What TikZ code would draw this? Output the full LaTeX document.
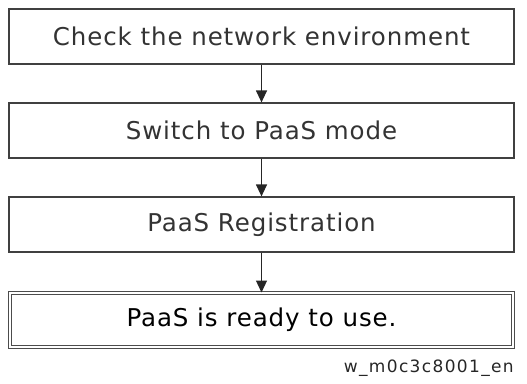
\documentclass[tikz,border=0pt]{standalone}
\usepackage{fontspec}
\setmainfont{DejaVu Sans}
\newfontfamily\boxfont[LetterSpace=3.7]{DejaVu Sans}
\newfontfamily\lblfont[LetterSpace=8]{DejaVu Sans}
\usetikzlibrary{arrows.meta}
\begin{document}
\begin{tikzpicture}[x=1pt,y=-1pt,
  box/.style={draw=black!75, line width=1.2pt, minimum width=505pt, minimum height=55pt, inner sep=0pt, text=black!80, font=\boxfont\fontsize{24.5}{28}\selectfont},
  endbox/.style={box, double=white, double distance=2pt, line width=1pt, draw=black!70, minimum width=503pt, minimum height=54pt, text=black},
  arr/.style={-{Triangle[length=12pt,width=11pt]}, line width=1.2pt, draw=black!85, fill=black!85}]
\useasboundingbox (0,0) rectangle (527,383);
\node[box] (a) at (261.5,36.5) {Check the network environment};
\node[box] (b) at (261.5,130.5) {Switch to PaaS mode};
\node[box] (c) at (261.5,224.5) {PaaS Registration};
\node[endbox] (d) at (261.5,320) {PaaS is ready to use.};
\node[anchor=base east, inner sep=0pt, font=\lblfont\fontsize{17}{19}\selectfont, text=black!85] (lbl) at (514,372) {w\_m0c3c8001\_en};
\draw[arr] (a) -- (b);
\draw[arr] (b) -- (c);
\draw[arr] (c) -- (d);
\end{tikzpicture}
\end{document}
